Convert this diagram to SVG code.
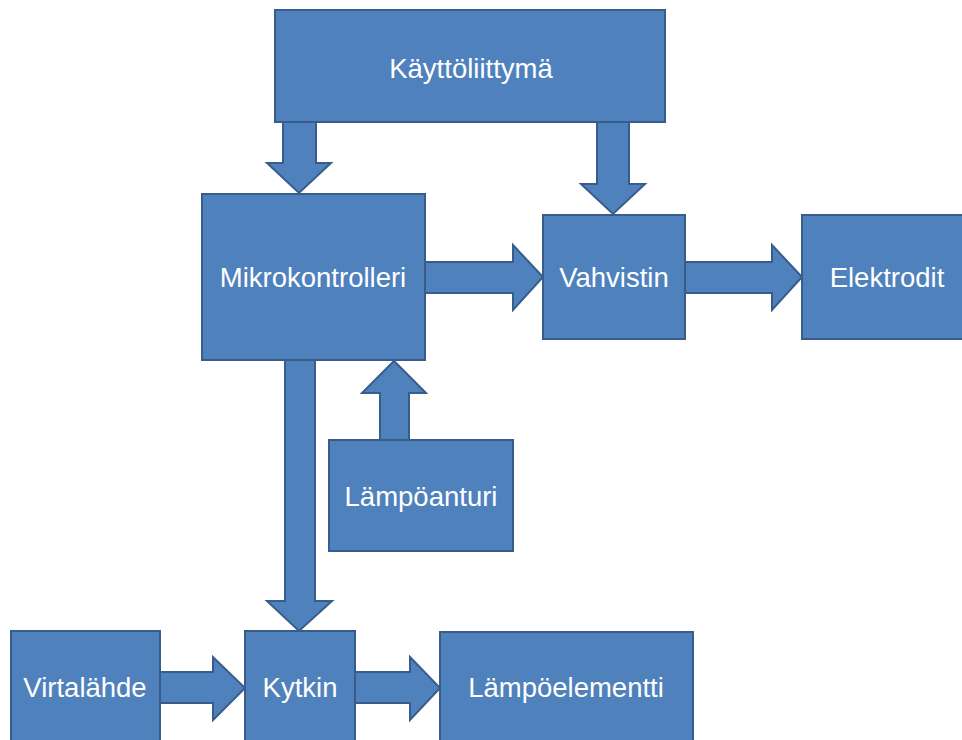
<svg xmlns="http://www.w3.org/2000/svg" width="962" height="740" viewBox="0 0 962 740">
<style>
.box{fill:#4F81BD;stroke:#385D8A;stroke-width:2}
.arr{fill:#4F81BD;stroke:#385D8A;stroke-width:2;stroke-linejoin:miter}
.lbl{fill:#FFFFFF;font-family:"Liberation Sans",Arial,sans-serif;font-size:27.5px;text-anchor:middle;dominant-baseline:central}
</style>
<rect width="962" height="740" fill="#FFFFFF"/>
<g id="connectors">
<polygon class="arr" points="283,122 316,122 316,163 331,163 299,193 267,163 283,163"/>
<polygon class="arr" points="597,122 629,122 629,184 645,184 613,214 581,184 597,184"/>
<polygon class="arr" points="425,262 513,262 513,245 543,277 513,310 513,293 425,293"/>
<polygon class="arr" points="685,262 772,262 772,245 802,277 772,310 772,293 685,293"/>
<polygon class="arr" points="380,440 380,393 362,393 394,361 426,393 409,393 409,440"/>
<polygon class="arr" points="285,360 315,360 315,601 332,601 299,631 267,601 285,601"/>
<polygon class="arr" points="160,672 213,672 213,657 245,688 213,720 213,703 160,703"/>
<polygon class="arr" points="355,672 410,672 410,657 440,688 410,720 410,703 355,703"/>
</g>
<g id="kayttoliittyma"><rect class="box" x="275" y="10" width="390" height="112"/><text class="lbl" x="471" y="68">Käyttöliittymä</text></g>
<g id="mikrokontrolleri"><rect class="box" x="202" y="194" width="223" height="166"/><text class="lbl" x="313" y="277">Mikrokontrolleri</text></g>
<g id="vahvistin"><rect class="box" x="543" y="215" width="142" height="124"/><text class="lbl" x="614" y="277">Vahvistin</text></g>
<g id="elektrodit"><rect class="box" x="802" y="215" width="170" height="124"/><text class="lbl" x="887" y="277">Elektrodit</text></g>
<g id="lampoanturi"><rect class="box" x="329" y="440" width="184" height="111"/><text class="lbl" x="421" y="496">Lämpöanturi</text></g>
<g id="virtalahde"><rect class="box" x="11" y="631" width="149" height="115"/><text class="lbl" x="85" y="687">Virtalähde</text></g>
<g id="kytkin"><rect class="box" x="245" y="631" width="110" height="115"/><text class="lbl" x="300" y="687">Kytkin</text></g>
<g id="lampoelementti"><rect class="box" x="440" y="632" width="253" height="114"/><text class="lbl" x="566" y="687">Lämpöelementti</text></g>
</svg>
